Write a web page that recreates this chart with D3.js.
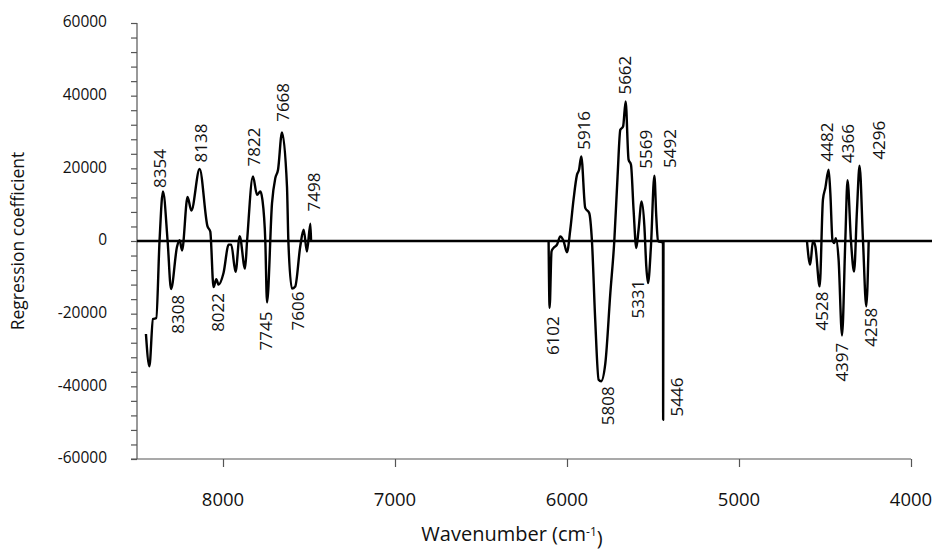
<!DOCTYPE html>
<html>
<head>
<meta charset="utf-8">
<script src="https://cdn.jsdelivr.net/npm/d3@7"></script>
<style>
  body { margin: 0; background: #fff; }
  text { font-family: "Open Sans", "DejaVu Sans", sans-serif; fill: #111; }
</style>
</head>
<body>
<div class="canvas"></div>
<script>
// regression coefficients, three wavenumber regions
const wnA = [8448, 8428, 8407, 8388, 8369, 8349, 8322, 8302, 8267, 8252, 8238, 8206, 8184, 8136, 8090, 8074, 8055, 8039, 8026, 7997, 7967, 7952, 7927, 7903, 7872, 7860, 7826, 7802, 7783, 7771, 7754, 7744, 7715, 7696, 7680, 7657, 7628, 7620, 7599, 7580, 7551, 7531, 7512, 7492, 7488];
const coefA = [-25600, -34500, -21500, -21200, 0, 13650, 0, -13200, -1500, 200, -2600, 12100, 8400, 19800, 4000, 2600, -12700, -10500, -12000, -8800, -1000, -1000, -8500, 1300, -7600, 0, 17800, 12700, 13650, 11400, 0, -16900, 10450, 17300, 19600, 29900, 15000, 0, -13100, -12500, -1500, 3100, -2900, 4760, 0];

const wnB = [6107, 6101, 6090, 6078, 6058, 6039, 6020, 6000, 5981, 5962, 5942, 5930, 5917, 5894, 5871, 5855, 5836, 5816, 5802, 5777, 5748, 5725, 5706, 5690, 5674, 5659, 5642, 5628, 5613, 5597, 5584, 5566, 5550, 5539, 5529, 5512, 5492, 5481, 5471, 5442, 5441, 5439];
const coefB = [0, -18400, -2900, -1900, -1000, 1270, 0, -3100, 3100, 11400, 18200, 19600, 23300, 9100, 7700, 0, -21700, -38200, -38600, -33600, -14300, 0, 17800, 30600, 31500, 38400, 22400, 21000, 8600, -1930, 3100, 10900, 4000, -7000, -11600, -1500, 18000, 6800, 0, -500, -49200, 0];

const wnC = [4605, 4586, 4570, 4556, 4531, 4512, 4498, 4479, 4469, 4456, 4445, 4437, 4421, 4401, 4382, 4369, 4349, 4331, 4314, 4299, 4279, 4260, 4246];
const coefC = [0, -6500, 0, -1500, -12500, 11400, 14600, 19600, 13200, 0, -550, 800, -5100, -26000, 0, 16700, 0, -8400, 8600, 20700, 0, -18000, 0];

// peak labels: text, placed at (wavenumber, coefficient); up = above the curve
const peakText = ["8354", "8138", "7822", "7668", "7498", "8308", "8022", "7745", "7606", "6102", "5916", "5808", "5662", "5569", "5492", "5331", "5446", "4482", "4366", "4296", "4528", "4397", "4258"];
const peakWn = [8369, 8130, 7818, 7649, 7469, 8263, 8030, 7749, 7565, 6083, 5899, 5763, 5664, 5540, 5401, 5588, 5359, 4491, 4367, 4188, 4517, 4402, 4232];
const peakCoef = [14600, 21600, 20500, 32800, 8150, -14800, -14300, -19400, -13900, -20700, 25100, -40000, 40300, 19900, 20100, -10650, -37600, 21900, 21500, 22400, -13900, -28000, -18400];
const peakUp = [1, 1, 1, 1, 1, 0, 0, 0, 0, 0, 1, 0, 1, 1, 1, 0, 0, 1, 1, 1, 0, 0, 0];

const xTicks = [8000, 7000, 6000, 5000, 4000];
const yTicks = [-60000, -40000, -20000, 0, 20000, 40000, 60000];

const margin = { top: 23, right: 21, bottom: 91, left: 137 };
const width = 932 - margin.left - margin.right;
const height = 550 - margin.top - margin.bottom;

const svg = d3
  .select(".canvas")
  .append("svg")
  .attr("width", 932)
  .attr("height", 550)
  .append("g")
  .attr("transform", `translate(${margin.left},${margin.top})`);

const x = d3.scaleLinear().domain([8500, 4000]).range([0, width]);
const y = d3.scaleLinear().domain([-60000, 60000]).range([height, 0]);

// y axis: minor ticks every 4000, labels every 20000
const yAxis = svg.append("g").call(
  d3.axisLeft(y).tickValues(d3.range(-60000, 60001, 4000)).tickSize(6).tickFormat("")
);
yAxis.selectAll("line, path").attr("stroke", "#555").attr("stroke-width", 1.2);
yAxis.select(".domain").attr("d", `M0,0V${height}`);

svg
  .selectAll(".ylab")
  .data(yTicks)
  .join("text")
  .attr("x", -30)
  .attr("y", (d) => y(d) - 1)
  .attr("dy", "0.35em")
  .attr("text-anchor", "end")
  .style("font-size", "15.5px")
  .text((d) => d);

// x axis at the bottom
const xAxis = svg
  .append("g")
  .attr("transform", `translate(0,${height})`)
  .call(d3.axisBottom(x).tickValues(xTicks).tickSize(8).tickFormat(""));
xAxis.selectAll("line, path").attr("stroke", "#555").attr("stroke-width", 1.2);
xAxis.select(".domain").attr("d", `M-6,0H${width}`);

svg
  .selectAll(".xlab")
  .data(xTicks)
  .join("text")
  .attr("x", (d) => x(d))
  .attr("y", height + 41)
  .attr("dy", "0.35em")
  .attr("text-anchor", "middle")
  .style("font-size", "18.5px")
  .text((d) => d);

// zero line runs past the plot to the right edge
svg
  .append("line")
  .attr("x1", 0)
  .attr("x2", 932 - margin.left)
  .attr("y1", y(0))
  .attr("y2", y(0))
  .attr("stroke", "#000")
  .attr("stroke-width", 2.4);

const line = d3
  .line()
  .x((d) => x(d[0]))
  .y((d) => y(d[1]))
  .curve(d3.curveMonotoneX);

[
  [wnA, coefA],
  [wnB, coefB],
  [wnC, coefC],
].forEach(([wn, coef]) => {
  svg
    .append("path")
    .datum(wn.map((w, i) => [w, coef[i]]))
    .attr("d", line)
    .attr("fill", "none")
    .attr("stroke", "#000")
    .attr("stroke-width", 2.4)
    .attr("stroke-linejoin", "round");
});

// rotated peak labels
svg
  .selectAll(".peak")
  .data(peakText)
  .join("text")
  .attr("transform", (d, i) => `translate(${x(peakWn[i])},${y(peakCoef[i])}) rotate(-90)`)
  .attr("dy", "0.36em")
  .attr("text-anchor", (d, i) => (peakUp[i] ? "start" : "end"))
  .style("font-size", "17px")
  .text((d) => d);

// axis titles
svg
  .append("text")
  .attr("transform", `translate(${18 - margin.left},${height / 2}) rotate(-90)`)
  .attr("dy", "0.35em")
  .attr("text-anchor", "middle")
  .style("font-size", "17.5px")
  .text("Regression coefficient");

const xTitle = svg
  .append("text")
  .attr("x", width / 2 - 12)
  .attr("y", height + 75)
  .attr("dy", "0.35em")
  .attr("text-anchor", "middle")
  .style("font-size", "20px");
xTitle.append("tspan").text("Wavenumber (cm");
xTitle.append("tspan").attr("dy", "-0.45em").style("font-size", "12px").text("-1");
xTitle.append("tspan").attr("dy", "0.45em").text(")");
</script>
</body>
</html>
